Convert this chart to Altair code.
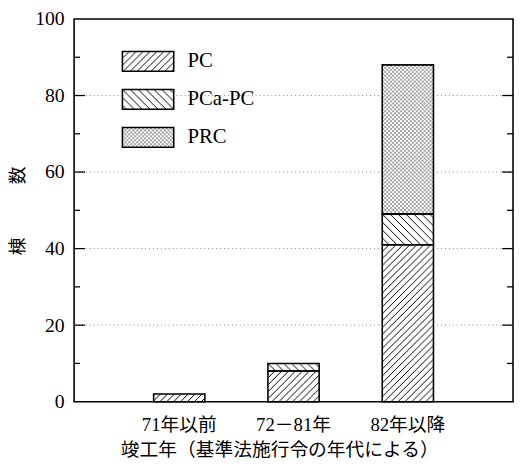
import base64
import altair as alt
import pandas as pd

# ---- data ----
periods = ["71年以前", "72－81年", "82年以降"]
types = ["PC", "PCa-PC", "PRC"]
pc = [2, 8, 41]
pca_pc = [0, 2, 8]
prc = [0, 0, 39]
y_label_values = [0, 20, 40, 60, 80, 100]
grid_values = [20, 40, 60, 80]
major_ticks = [20, 40, 60, 80]
minor_ticks = [10, 30, 50, 70, 90]

W, H = 445, 388
SERIF = "Liberation Serif, Noto Sans CJK JP"
CJK = "Noto Sans CJK JP"


def svg_uri(body, w, h):
    svg = ("<svg xmlns='http://www.w3.org/2000/svg' width='100%' height='100%'>"
           f"<defs><pattern id='p' patternUnits='userSpaceOnUse' width='{w}' height='{h}'>{body}</pattern></defs>"
           "<rect width='100%' height='100%' fill='white'/>"
           "<rect width='100%' height='100%' fill='url(#p)'/></svg>")
    return "data:image/svg+xml;base64," + base64.b64encode(svg.encode()).decode()


patterns = {
    "PC": svg_uri("<path d='M-1,8 L8,-1 M-1,1 L1,-1 M6,8 L8,6' stroke='black' stroke-width='1'/>", 7, 7),
    "PCa-PC": svg_uri("<path d='M-1,-1 L9,9 M7,-1 L9,1 M-1,7 L1,9' stroke='black' stroke-width='1'/>", 8, 8),
    "PRC": svg_uri("<circle cx='1' cy='1' r='0.7' fill='black'/><circle cx='3' cy='3' r='0.7' fill='black'/>", 4, 4),
}

rows = []
for i, p in enumerate(periods):
    base = 0
    for t, vals in zip(types, [pc, pca_pc, prc]):
        v = vals[i]
        if v > 0:
            rows.append({"period": p, "type": t, "y0": base, "y1": base + v, "url": patterns[t]})
        base += v
bars = pd.DataFrame(rows)

legend = pd.DataFrame({"type": types, "idx": list(range(len(types)))})
legend["url"] = legend["type"].map(patterns)

yscale = alt.Scale(domain=[0, 100], nice=False, zero=True)
xscale = alt.Scale(paddingInner=0.552, paddingOuter=0.696)

x_axis = alt.Axis(
    title="竣工年（基準法施行令の年代による）", labelAngle=0, ticks=False, tickSize=0, domain=False,
    labelFont=SERIF, labelFontSize=19, labelColor="black", labelPadding=14,
    titleFont=SERIF, titleFontSize=19, titleFontWeight="normal", titleColor="black",
    titleX=208, titleY=55, titleAlign="center", titleBaseline="alphabetic",
)
y_axis = alt.Axis(
    values=y_label_values, ticks=False, tickSize=0, domain=False, grid=False,
    labelFont=SERIF, labelFontSize=20, labelColor="black", labelPadding=10,
    title="棟　　　数", titleFont=CJK, titleFontSize=18, titleFontWeight="normal",
    titleColor="black", titleX=-56, titleY=H / 2, titleAlign="center", titleBaseline="middle",
)

x_enc = alt.X("period:N", sort=periods, scale=xscale, axis=x_axis)
y_enc = alt.Y("y0:Q", scale=yscale, axis=y_axis)

grid = alt.Chart(pd.DataFrame({"v": grid_values})).mark_rule(
    color="#8a8a8a", strokeWidth=1, strokeDash=[1, 3]
).encode(y=alt.Y("v:Q", scale=yscale, axis=y_axis), x=alt.value(0), x2=alt.value(W))

tick_layers = []
for vals, ln in [(major_ticks, 11), (minor_ticks, 6)]:
    df = pd.DataFrame({"v": vals})
    tick_layers.append(alt.Chart(df).mark_rule(color="black", strokeWidth=1.3).encode(
        y=alt.Y("v:Q", scale=yscale, axis=y_axis), x=alt.value(0), x2=alt.value(ln)))
    tick_layers.append(alt.Chart(df).mark_rule(color="black", strokeWidth=1.3).encode(
        y=alt.Y("v:Q", scale=yscale, axis=y_axis), x=alt.value(W - ln), x2=alt.value(W)))

fills = alt.Chart(bars).mark_image(aspect=False).encode(
    x=x_enc, y=y_enc, y2="y1:Q", url="url:N")

outlines = alt.Chart(bars).mark_bar(fillOpacity=0, stroke="black", strokeWidth=1.6).encode(
    x=x_enc, y=y_enc, y2="y1:Q")

leg_base = alt.Chart(legend).transform_calculate(
    ly="33 + 38.5 * datum.idx", ly2="53 + 38.5 * datum.idx", lt="43 + 38.5 * datum.idx")
leg_fill = leg_base.mark_image(aspect=False).encode(
    x=alt.value(49), x2=alt.value(101),
    y=alt.Y("ly:Q", scale=None), y2="ly2:Q", url="url:N")
leg_box = leg_base.mark_rect(fillOpacity=0, stroke="black", strokeWidth=1.6).encode(
    x=alt.value(49), x2=alt.value(101),
    y=alt.Y("ly:Q", scale=None), y2="ly2:Q")
leg_text = leg_base.mark_text(
    align="left", baseline="middle", font=SERIF, fontSize=21, color="black"
).encode(x=alt.value(115), y=alt.Y("lt:Q", scale=None), text="type:N")

chart = alt.layer(
    grid, *tick_layers, fills, outlines, leg_fill, leg_box, leg_text
).properties(
    width=W, height=H,
    padding={"left": 67, "top": 8, "right": 1, "bottom": 57},
    autosize=alt.AutoSizeParams(type="none"),
    background="white",
).configure_view(
    stroke="black", strokeWidth=1.6
)

chart.save("out.html", embed_options={"renderer": "svg", "actions": False})
